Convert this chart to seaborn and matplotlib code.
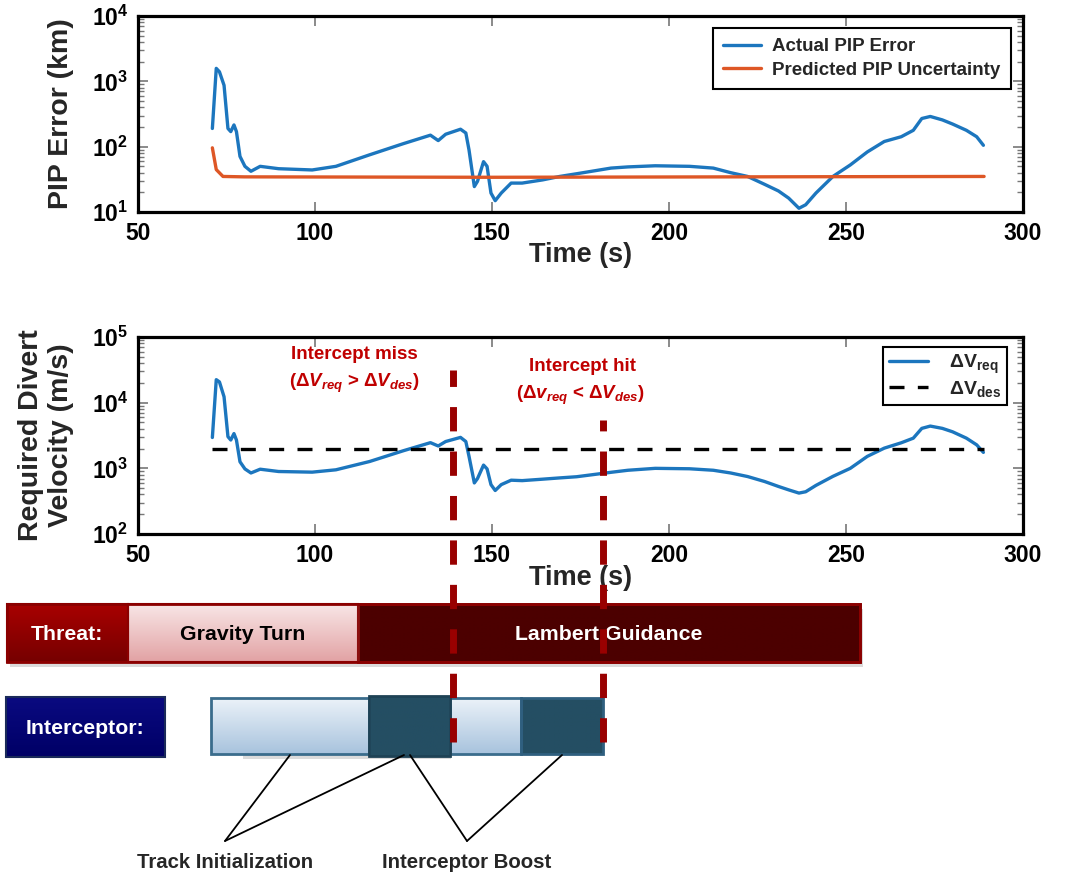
import numpy as np
import matplotlib
matplotlib.use("Agg")
import matplotlib.pyplot as plt
import matplotlib.colors as mcolors
from matplotlib import transforms
from matplotlib.lines import Line2D
from matplotlib.patches import Rectangle
from matplotlib.ticker import LogLocator, FuncFormatter, NullFormatter
import seaborn as sns
import pandas as pd

# time axis (s) shared by both curves
t_sec = [71, 72.1, 73, 74.3, 75.4, 76.2, 77.1, 77.8, 78.8, 80.2,
         81.9, 84.5, 89.7, 99.2, 105.9, 115.4, 124.9, 132.6, 134.8, 136.9,
         141.1, 142.6, 143.5, 145.0, 145.9, 147.6, 148.6, 149.7, 150.9, 152.6,
         155.4, 158.5, 164.3, 169.1, 173.9, 183.6, 188.4, 196.1, 205.8, 212.5,
         217.4, 222.2, 227.0, 230.9, 233.8, 236.7, 238.6, 241.5, 246.3, 251.2,
         256.0, 260.8, 265.6, 269.0, 271.4, 273.8, 277.2, 280.1, 284.0, 286.9,
         288.8]

# actual PIP error (km)
pip_error = [190, 1580, 1400, 870, 190, 170, 215, 170, 71, 50,
             42, 50, 46, 44, 50, 75, 111, 150, 124, 155,
             185, 162, 89, 24.5, 29.5, 59, 50, 19.5, 14.9, 19.5,
             27.7, 27.7, 31, 35, 38.5, 47, 49, 51, 50, 47,
             40, 35, 26.5, 21, 16.3, 11.4, 12.9, 19.5, 35, 52.5,
             83, 120, 142, 178, 270, 290, 257, 222, 178, 142,
             105]

# predicted PIP uncertainty (km)
t_unc = [71, 72.1, 74.0, 80, 150, 289]
pip_unc = [96, 44.6, 35, 34.5, 34, 35]

# required divert velocity (m/s)
dv_req = [2950, 22400, 20700, 12300, 3040, 2700, 3380, 2700, 1260, 980,
          850, 970, 895, 875, 950, 1270, 1850, 2460, 2190, 2560,
          2960, 2560, 1520, 600, 700, 1120, 980, 565, 460, 565,
          660, 650, 684, 715, 745, 870, 935, 1000, 985, 935,
          850, 750, 630, 530, 470, 420, 440, 550, 755, 1000,
          1520, 2030, 2450, 2880, 4060, 4400, 4060, 3600, 2880, 2280,
          1750]

# designed divert velocity
t_des = [71, 289]
dv_des = [2000, 2000]

# intercept events (s)
t_miss = 139.0
t_hit = 181.4

x_ticks = [50, 100, 150, 200, 250, 300]

BLUE = "#1C76BE"
ORANGE = "#DE5726"
RED_TXT = "#C00000"
RED_LINE = "#990000"

sns.set_style("ticks")
plt.rcParams["font.family"] = ["Liberation Sans", "DejaVu Sans"]
plt.rcParams["font.weight"] = "bold"
plt.rcParams["mathtext.fontset"] = "custom"
plt.rcParams["mathtext.rm"] = "Liberation Sans:bold"
plt.rcParams["mathtext.bf"] = "Liberation Sans:bold"
plt.rcParams["mathtext.it"] = "Liberation Sans:italic:bold"

fig = plt.figure(figsize=(10.65, 8.76), dpi=100)
ax1 = fig.add_axes([0.1296, 0.758, 0.831, 0.2237])
ax2 = fig.add_axes([0.1296, 0.3904, 0.831, 0.2249])


def style_axes(ax, ylim):
    ax.set_yscale("log")
    ax.set_xlim(50, 300)
    ax.set_ylim(*ylim)
    ax.set_xticks(x_ticks)
    ax.set_xticklabels([str(v) for v in x_ticks])
    ax.yaxis.set_major_locator(LogLocator(base=10, numticks=10))
    ax.yaxis.set_minor_locator(LogLocator(base=10, subs=np.arange(2, 10), numticks=10))
    ax.yaxis.set_minor_formatter(NullFormatter())
    ax.yaxis.set_major_formatter(FuncFormatter(lambda v, p: r"$\mathbf{10^{%d}}$" % round(np.log10(v))))
    ax.tick_params(which="both", direction="in", top=True, right=True, color="#777777",
                   labelcolor="black", labelsize=16.5, pad=7)
    ax.tick_params(which="major", length=7, width=1.2)
    ax.tick_params(which="minor", length=4, width=1)
    for s in ax.spines.values():
        s.set_linewidth(2.3)
        s.set_color("black")
    ax.set_xlabel("Time (s)", fontsize=19.5, fontweight="bold")
    ax.xaxis.set_label_coords(0.5, -0.155)


# top: PIP error
df_pip = pd.DataFrame({"Time": t_sec, "Error": pip_error})
df_unc = pd.DataFrame({"Time": t_unc, "Error": pip_unc})
sns.lineplot(data=df_pip, x="Time", y="Error", ax=ax1, color=BLUE, lw=2.4, label="Actual PIP Error")
sns.lineplot(data=df_unc, x="Time", y="Error", ax=ax1, color=ORANGE, lw=2.4, label="Predicted PIP Uncertainty")
style_axes(ax1, (10, 1e4))
ax1.set_ylabel("PIP Error (km)", fontsize=20.5, fontweight="bold")
ax1.yaxis.set_label_coords(-0.072, 0.5)
leg1 = ax1.legend(loc="upper right", bbox_to_anchor=(0.986, 0.94), borderaxespad=0, fancybox=False,
                  framealpha=1, edgecolor="black", prop={"size": 13.5, "weight": "bold"},
                  handlelength=2.0, borderpad=0.55, labelspacing=0.35, handletextpad=0.6)
leg1.get_frame().set_linewidth(1.5)

# middle: required divert velocity
df_req = pd.DataFrame({"Time": t_sec, "dV": dv_req})
df_des = pd.DataFrame({"Time": t_des, "dV": dv_des})
sns.lineplot(data=df_req, x="Time", y="dV", ax=ax2, color=BLUE, lw=2.4, label=r"$\mathbf{\Delta V_{req}}$")
sns.lineplot(data=df_des, x="Time", y="dV", ax=ax2, color="black", lw=2.4,
             linestyle=(0, (4.5, 4)), label=r"$\mathbf{\Delta V_{des}}$")
style_axes(ax2, (100, 1e5))
ax2.set_ylabel("Required Divert\nVelocity (m/s)", fontsize=20.5, fontweight="bold", linespacing=1.2)
ax2.yaxis.set_label_coords(-0.072, 0.5)
leg2 = ax2.legend(loc="upper right", bbox_to_anchor=(0.982, 0.95), borderaxespad=0, fancybox=False,
                  framealpha=1, edgecolor="black", prop={"size": 14}, handlelength=2.0,
                  borderpad=0.3, labelspacing=0.15, handletextpad=1.1)
leg2.get_frame().set_linewidth(1.5)

ax2.text(0.244, 0.909, "Intercept miss", transform=ax2.transAxes, ha="center", va="center",
         color=RED_TXT, fontsize=13.5, fontweight="bold")
ax2.text(0.244, 0.766, r"($\mathit{\Delta V_{req}}$ > $\mathit{\Delta V_{des}}$)", transform=ax2.transAxes,
         ha="center", va="center", color=RED_TXT, fontsize=13.5, fontweight="bold")
ax2.text(0.502, 0.848, "Intercept hit", transform=ax2.transAxes, ha="center", va="center",
         color=RED_TXT, fontsize=13.5, fontweight="bold")
ax2.text(0.4995, 0.706, r"($\mathit{\Delta v_{req}}$ < $\mathit{\Delta V_{des}}$)", transform=ax2.transAxes,
         ha="center", va="center", color=RED_TXT, fontsize=13.5, fontweight="bold")

# vertical event markers running down into the timeline
H = 876.0
trans = transforms.blended_transform_factory(ax2.transData, fig.transFigure)
for t, ytop in zip([t_miss, t_hit], [370, 420]):
    ln = Line2D([t, t], [1 - 742 / H, 1 - ytop / H], transform=trans, color=RED_LINE,
                lw=5, linestyle=(0, (3.5, 2.9)), zorder=20)
    fig.add_artist(ln)

# timeline diagram (pixel coordinates)
axd = fig.add_axes([0, 0, 1, 1], zorder=5)
axd.axis("off")


def grad_box(x0, x1, y0, y1, c_top, c_bot, edge, lw=1.5, z=2):
    top = np.array(mcolors.to_rgb(c_top))
    bot = np.array(mcolors.to_rgb(c_bot))
    g = np.linspace(0, 1, 64)[:, None, None]
    img = top * (1 - g) + bot * g
    axd.imshow(img, extent=(x0, x1, y1, y0), aspect="auto", zorder=z, interpolation="bilinear")
    axd.add_patch(Rectangle((x0, y0), x1 - x0, y1 - y0, fill=False, edgecolor=edge, lw=lw, zorder=z + 0.1))


def shadow(x0, x1, y0, y1):
    axd.add_patch(Rectangle((x0 + 3, y0 + 5), x1 - x0, y1 - y0, color="#999999", alpha=0.35, lw=0, zorder=1))


# threat bar
shadow(7, 860, 604, 662)
grad_box(7, 128, 604, 662, "#A80000", "#760000", "#8B0000")
grad_box(128, 358, 604, 662, "#F8E6E6", "#E2A2A4", "#8B0000")
grad_box(358, 860, 604, 662, "#4C0000", "#4C0000", "#8B1010", lw=2)
axd.add_patch(Rectangle((7, 604), 853, 58, fill=False, edgecolor="#8B0000", lw=2, zorder=3))
axd.text(67, 634, "Threat:", color="white", fontsize=15.3, fontweight="bold", ha="center", va="center", zorder=4)
axd.text(243, 634, "Gravity Turn", color="black", fontsize=15.3, fontweight="bold", ha="center", va="center", zorder=4)
axd.text(609, 634, "Lambert Guidance", color="white", fontsize=15.3, fontweight="bold", ha="center", va="center", zorder=4)

# interceptor bar
grad_box(6, 165, 697, 757, "#0A0A80", "#000066", "#1A2A5A")
axd.text(85, 728, "Interceptor:", color="white", fontsize=15.3, fontweight="bold", ha="center", va="center", zorder=4)
shadow(240, 448, 698, 754)
grad_box(211, 369, 698, 754, "#EBF2F9", "#A8C3DD", "#3A6C8C", lw=2)
grad_box(450, 521, 698, 754, "#EBF2F9", "#A8C3DD", "#3A6C8C", lw=2)
grad_box(369, 450, 696, 756, "#244E63", "#244E63", "#1E4255", lw=2)
grad_box(521, 603, 698, 754, "#244E63", "#244E63", "#2F5F7F", lw=2)

# callouts
for (xa, xb) in [(290, 225), (404, 225), (410, 467), (562, 467)]:
    axd.plot([xa, xb], [755, 841], color="black", lw=1.3, zorder=3)
axd.text(225, 863, "Track Initialization", fontsize=14.7, fontweight="bold", ha="center", va="center")
axd.text(467, 863, "Interceptor Boost", fontsize=14.7, fontweight="bold", ha="center", va="center")

axd.set_xlim(0, 1065)
axd.set_ylim(876, 0)

plt.savefig("out.png", dpi=100)
plt.close()
